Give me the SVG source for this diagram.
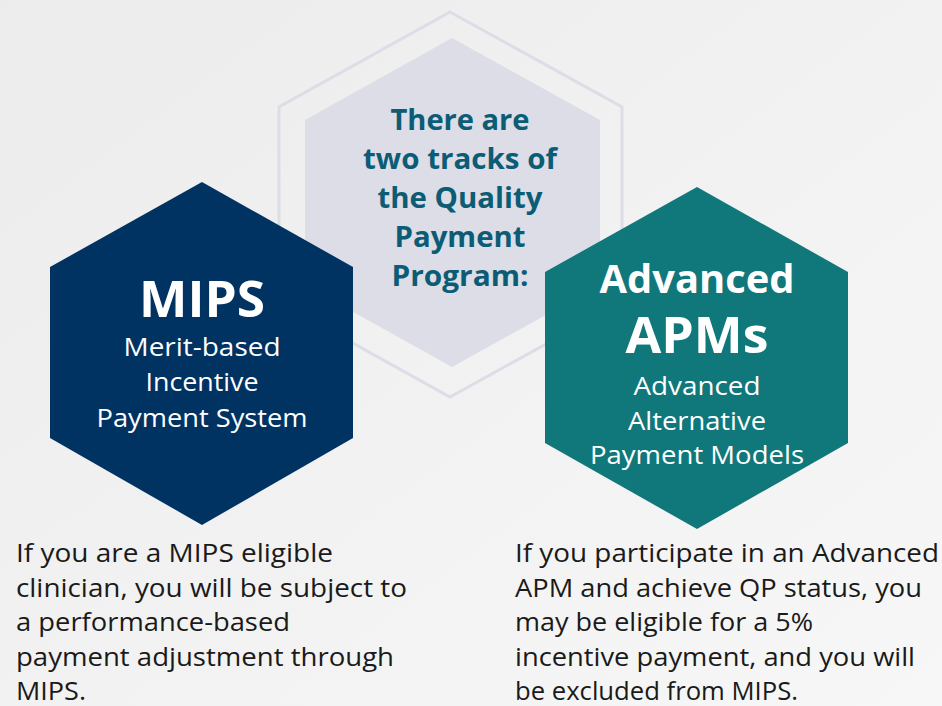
<svg xmlns="http://www.w3.org/2000/svg" width="942" height="706" viewBox="0 0 942 706">
<defs>
<linearGradient id="bg" x1="0" y1="0" x2="1" y2="1">
<stop offset="0" stop-color="#ececec"/>
<stop offset="1" stop-color="#f7f7f7"/>
</linearGradient>
<style>
.t{font-family:"Open Sans","Noto Sans","Liberation Sans",sans-serif;}
.title{font-weight:700;font-size:29px;fill:#0b5c74;text-anchor:middle;}
.big{font-weight:700;fill:#ffffff;text-anchor:middle;}
.sub{font-size:26px;fill:#ffffff;text-anchor:middle;}
.body{font-size:25.5px;fill:#1a1a1a;}
</style>
</defs>
<rect width="942" height="706" fill="url(#bg)"/>
<g id="center">
<polygon points="450,12 622,107 622,302 450,397 279,302 279,107" fill="none" stroke="#dcdde6" stroke-width="3"/>
<polygon points="452,38 600,120 600,285 452,367 305,285 305,120" fill="#dcdde6"/>
<text class="t title" x="460" y="130" textLength="139" lengthAdjust="spacingAndGlyphs">There are</text>
<text class="t title" x="460" y="169" textLength="194" lengthAdjust="spacingAndGlyphs">two tracks of</text>
<text class="t title" x="460" y="208" textLength="165" lengthAdjust="spacingAndGlyphs">the Quality</text>
<text class="t title" x="460" y="247" textLength="131" lengthAdjust="spacingAndGlyphs">Payment</text>
<text class="t title" x="460" y="286" textLength="137" lengthAdjust="spacingAndGlyphs">Program:</text>
</g>
<g id="mips">
<polygon points="202,182 353,267 353,438 202,525 50,438 50,267" fill="#003262"/>
<text class="t big" x="202" y="317" font-size="50" textLength="126" lengthAdjust="spacingAndGlyphs">MIPS</text>
<text class="t sub" x="202" y="356" textLength="157" lengthAdjust="spacingAndGlyphs">Merit-based</text>
<text class="t sub" x="202" y="391" textLength="113" lengthAdjust="spacingAndGlyphs">Incentive</text>
<text class="t sub" x="202" y="427" textLength="211" lengthAdjust="spacingAndGlyphs">Payment System</text>
</g>
<g id="apms">
<polygon points="697,187 848,272 848,443 697,529 545,443 545,272" fill="#10777b"/>
<text class="t big" x="697" y="293" font-size="39" textLength="195" lengthAdjust="spacingAndGlyphs">Advanced</text>
<text class="t big" x="697" y="353" font-size="51" textLength="143" lengthAdjust="spacingAndGlyphs">APMs</text>
<text class="t sub" x="697" y="395" textLength="127" lengthAdjust="spacingAndGlyphs">Advanced</text>
<text class="t sub" x="697" y="430" textLength="138" lengthAdjust="spacingAndGlyphs">Alternative</text>
<text class="t sub" x="697" y="464" textLength="214" lengthAdjust="spacingAndGlyphs">Payment Models</text>
</g>
<g id="mips-desc">
<text class="t body" x="16" y="562" textLength="317" lengthAdjust="spacingAndGlyphs">If you are a MIPS eligible</text>
<text class="t body" x="16" y="597" textLength="391" lengthAdjust="spacingAndGlyphs">clinician, you will be subject to</text>
<text class="t body" x="16" y="631" textLength="274" lengthAdjust="spacingAndGlyphs">a performance-based</text>
<text class="t body" x="16" y="666" textLength="378" lengthAdjust="spacingAndGlyphs">payment adjustment through</text>
<text class="t body" x="16" y="700" textLength="70" lengthAdjust="spacingAndGlyphs">MIPS.</text>
</g>
<g id="apms-desc">
<text class="t body" x="515" y="562" textLength="424" lengthAdjust="spacingAndGlyphs">If you participate in an Advanced</text>
<text class="t body" x="515" y="597" textLength="407" lengthAdjust="spacingAndGlyphs">APM and achieve QP status, you</text>
<text class="t body" x="515" y="631" textLength="298" lengthAdjust="spacingAndGlyphs">may be eligible for a 5%</text>
<text class="t body" x="515" y="666" textLength="400" lengthAdjust="spacingAndGlyphs">incentive payment, and you will</text>
<text class="t body" x="515" y="700" textLength="283" lengthAdjust="spacingAndGlyphs">be excluded from MIPS.</text>
</g>
<g id="connectors"/>
</svg>
